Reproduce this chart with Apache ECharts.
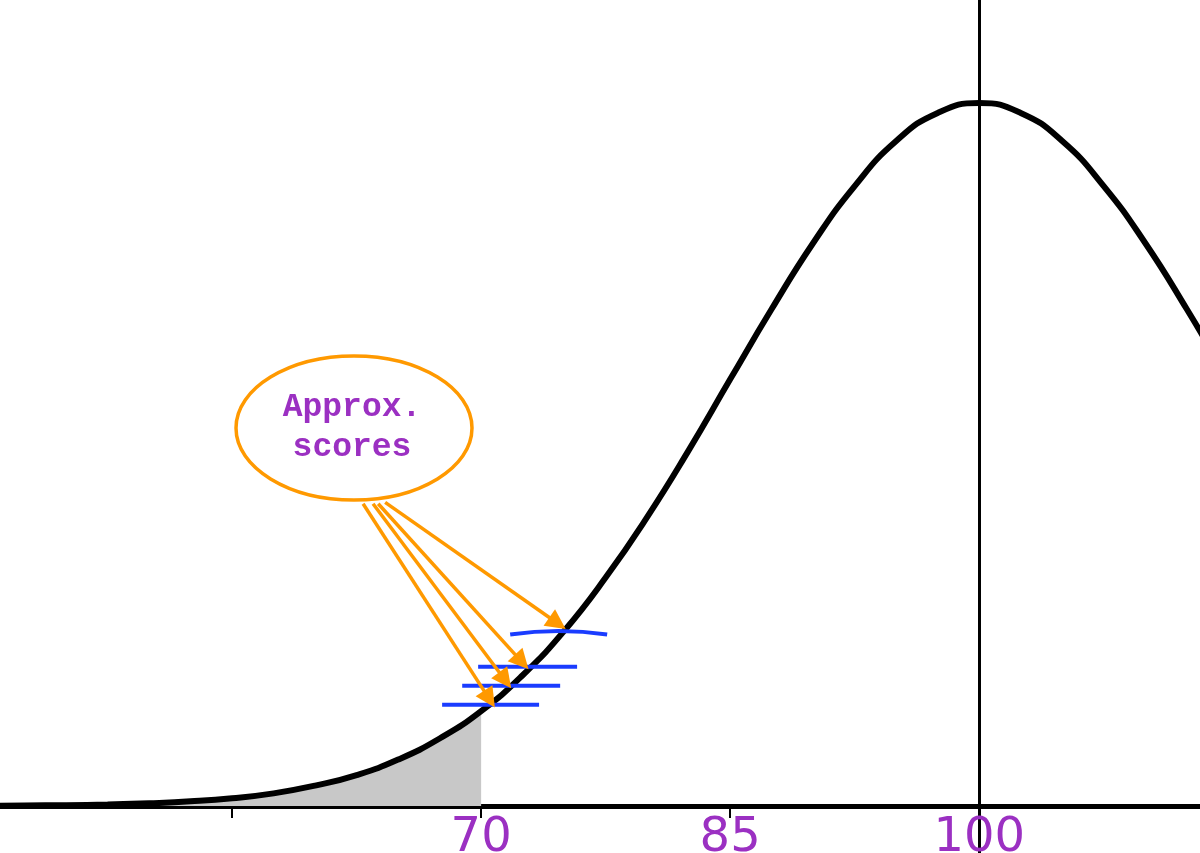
<!DOCTYPE html>
<html>
<head>
<meta charset="utf-8">
<title>Approx. scores</title>
<script src="https://cdn.jsdelivr.net/npm/echarts@6.0.0/dist/echarts.min.js"></script>
<style>
    html, body { margin: 0; padding: 0; background: #fff; }
    #chart { width: 1200px; height: 853px; }
</style>
</head>
<body>
<div id="chart"></div>
<script>
// curve (height relative to the peak at 100)
var scores = [40, 42.5, 45, 47.5, 50, 52.5, 55, 57.5, 60, 62.5, 65, 67.5, 70, 72.5, 75, 77.5, 80, 82.5, 85, 87.5, 90, 92.5, 95, 97.5, 100, 102.5, 105, 107.5, 110, 112.5, 115];
var density = [0.0003, 0.0007, 0.0012, 0.0022, 0.0039, 0.0066, 0.011, 0.018, 0.029, 0.044, 0.066, 0.096, 0.135, 0.186, 0.249, 0.325, 0.411, 0.506, 0.607, 0.707, 0.801, 0.882, 0.946, 0.986, 1, 0.986, 0.946, 0.882, 0.801, 0.707, 0.607];
var shadeUpTo = 70;
var meanScore = 100;
var tickValues = [55, 70, 85, 100];
var labelValues = [70, 85, 100];

// the blue "approx. score" bars
var approxFrom = [67.65, 68.86, 69.82, 71.75];
var approxTo = [73.49, 74.76, 75.78, 77.59];
var approxLevel = [0.144, 0.171, 0.198, 0.246];

// arrows from the bubble to the bars
var arrowFromX = [62.89, 63.49, 63.8, 64.22];
var arrowFromY = [0.43, 0.43, 0.43, 0.432];
var arrowToX = [70.5, 71.45, 72.45, 74.6];
var arrowToY = [0.152, 0.179, 0.205, 0.26];

var purple = '#9b30c2';
var orange = '#ff9900';

var curveData = [];
var shadeData = [];
for (var i = 0; i < scores.length; i++) {
    curveData.push([scores[i], density[i]]);
    if (scores[i] <= shadeUpTo) {
        shadeData.push([scores[i], density[i]]);
    }
}

var series = [];

// shaded tail
series.push({
    type: 'line',
    data: shadeData,
    smooth: true,
    symbol: 'none',
    lineStyle: { width: 0 },
    areaStyle: { color: '#c8c8c8', opacity: 1 },
    z: 1
});

// the bell curve
series.push({
    type: 'line',
    data: curveData,
    smooth: true,
    symbol: 'none',
    lineStyle: { color: '#000', width: 6 },
    z: 3,
    markLine: {
        silent: true,
        symbol: 'none',
        label: { show: false },
        lineStyle: { color: '#000', width: 3, type: 'solid' },
        data: [{ xAxis: meanScore }]
    }
});

for (var j = 0; j < approxFrom.length; j++) {
    var pts = [[approxFrom[j], approxLevel[j]], [approxTo[j], approxLevel[j]]];
    if (j == approxFrom.length - 1) {
        // top one is a little bowed
        pts = [[approxFrom[j], approxLevel[j] - 0.002], [(approxFrom[j] + approxTo[j]) / 2, approxLevel[j] + 0.003], [approxTo[j], approxLevel[j] - 0.002]];
    }
    series.push({
        type: 'line',
        data: pts,
        smooth: true,
        symbol: 'none',
        lineStyle: { color: '#1a3cff', width: 4 },
        z: 4
    });
}

var arrowLines = [];
for (var k = 0; k < arrowToX.length; k++) {
    arrowLines.push([
        { coord: [arrowFromX[k], arrowFromY[k]] },
        { coord: [arrowToX[k], arrowToY[k]] }
    ]);
}
series.push({
    type: 'line',
    data: [],
    markLine: {
        silent: true,
        animation: false,
        symbol: ['none', 'triangle'],
        symbolSize: 20,
        label: { show: false },
        lineStyle: { color: orange, width: 3.5, type: 'solid' },
        itemStyle: { color: orange },
        data: arrowLines
    },
    z: 5
});

var chart = echarts.init(document.getElementById('chart'));
chart.setOption({
    animation: false,
    backgroundColor: '#fff',
    grid: { left: 0, right: 0, top: 0, bottom: 47, outerBoundsMode: 'none' },
    xAxis: [{
        type: 'value',
        min: 41.02,
        max: 113.3,
        position: 'bottom',
        splitLine: { show: false },
        axisLine: { show: true, lineStyle: { color: '#000', width: 5 } },
        axisTick: { show: true, customValues: tickValues.slice(0, 3), length: 12, lineStyle: { color: '#000', width: 2 } },
        axisLabel: {
            show: true,
            customValues: labelValues,
            margin: 9,
            color: purple,
            fontSize: 48,
            fontFamily: 'DejaVu Sans'
        }
    }, {
        // only to carry the mean line down through its label
        type: 'value',
        min: 41.02,
        max: 113.3,
        position: 'bottom',
        splitLine: { show: false },
        axisLine: { show: false },
        axisTick: { show: true, customValues: [meanScore], length: 48, lineStyle: { color: '#000', width: 3 } },
        axisLabel: { show: false }
    }],
    yAxis: {
        type: 'value',
        min: 0,
        max: 1.1467,
        show: false
    },
    series: series,
    graphic: [{
        type: 'ellipse',
        shape: { cx: 354, cy: 428, rx: 118, ry: 72 },
        style: { fill: '#fff', stroke: orange, lineWidth: 3.5 },
        z: 10
    }, {
        type: 'text',
        x: 352,
        y: 428,
        style: {
            text: 'Approx.\nscores',
            align: 'center',
            verticalAlign: 'middle',
            font: 'bold 33px "Liberation Mono"',
            lineHeight: 40,
            fill: purple
        },
        z: 11
    }]
});
</script>
</body>
</html>
